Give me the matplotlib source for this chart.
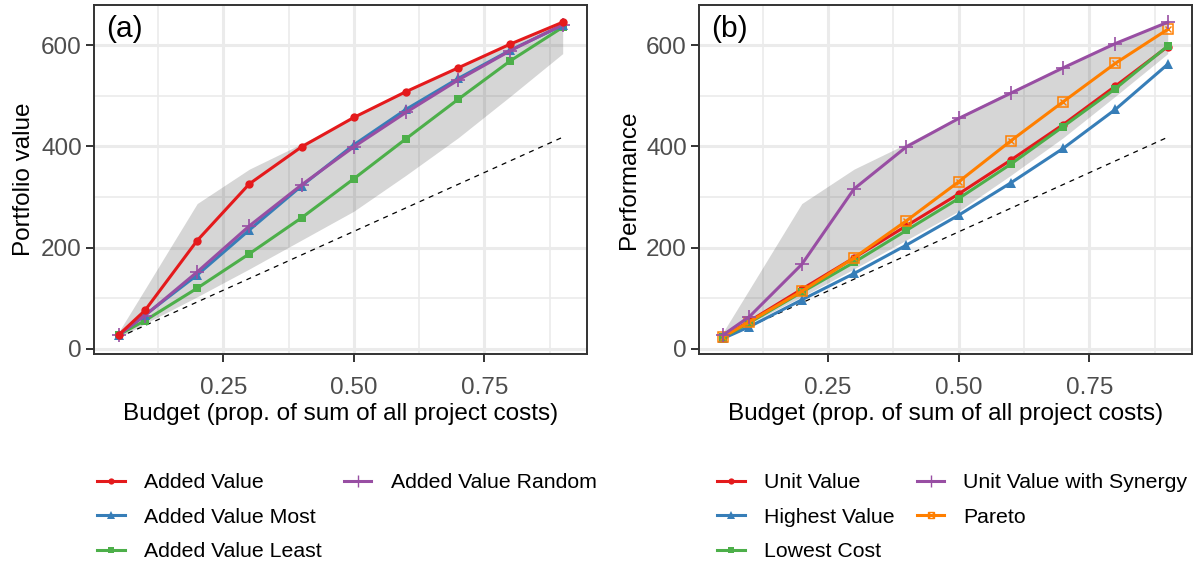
import matplotlib.pyplot as plt
from matplotlib.lines import Line2D
from matplotlib.legend_handler import HandlerTuple
from matplotlib.ticker import FixedLocator, FormatStrFormatter

plt.rcParams['font.family'] = ['Liberation Sans', 'DejaVu Sans']

budget = [0.05, 0.1, 0.2, 0.3, 0.4, 0.5, 0.6, 0.7, 0.8, 0.9]

# panel (a)
added_value = [28, 76, 214, 326, 399, 457, 508, 555, 602, 645]
added_most = [28, 67, 146, 235, 322, 403, 473, 534, 590, 639]
added_least = [28, 56, 120, 188, 259, 336, 415, 493, 569, 635]
added_random = [28, 66, 152, 243, 324, 399, 467, 531, 589, 640]

# panel (b)
unit_value = [24, 55, 118, 180, 243, 306, 373, 443, 519, 597]
highest_value = [21, 44, 97, 149, 205, 264, 328, 396, 473, 562]
lowest_cost = [23, 52, 112, 171, 234, 297, 365, 439, 514, 598]
unit_synergy = [28, 64, 167, 316, 399, 455, 505, 555, 603, 645]
pareto = [24, 54, 114, 180, 253, 330, 411, 488, 564, 631]

# grey band (same in both panels)
band_low = [22, 50, 103, 158, 215, 272, 343, 417, 499, 583]
band_high = [34, 118, 287, 355, 405, 458, 510, 557, 603, 647]

# dashed reference line
baseline_x = [0.05, 0.9]
baseline_a = [23, 418]
baseline_b = [21, 418]

RED = '#E41A1C'
BLUE = '#377EB8'
GREEN = '#4DAF4A'
PURPLE = '#984EA3'
ORANGE = '#FF7F00'

W, H = 1198, 565
LW = 2.2


def style_axes(ax, xlim):
    ax.set_xlim(*xlim)
    ax.set_ylim(-10.5, 679)
    ax.xaxis.set_major_locator(FixedLocator([0.25, 0.5, 0.75]))
    ax.xaxis.set_major_formatter(FormatStrFormatter('%.2f'))
    ax.xaxis.set_minor_locator(FixedLocator([0.125, 0.375, 0.625, 0.875]))
    ax.yaxis.set_major_locator(FixedLocator([0, 200, 400, 600]))
    ax.yaxis.set_minor_locator(FixedLocator([100, 300, 500]))
    ax.grid(which='major', color='#EBEBEB', linewidth=2.2)
    ax.grid(which='minor', color='#EBEBEB', linewidth=1.2)
    ax.set_axisbelow(True)
    ax.tick_params(which='major', length=6, width=1.4, color='#333333',
                   labelsize=17.5, labelcolor='#4D4D4D', pad=3)
    ax.tick_params(axis='x', which='major', pad=10)
    ax.tick_params(which='minor', length=0)
    for s in ax.spines.values():
        s.set_color('#333333')
        s.set_linewidth(1.4)
    ax.set_xlabel('Budget (prop. of sum of all project costs)', fontsize=17.5, labelpad=3.5)


def series(ax, y, color, marker, ms, mew=0, mfc=None):
    ax.plot(budget, y, color=color, lw=LW, marker=marker, ms=ms,
            mew=mew, mfc=mfc if mfc else color, mec=color, zorder=3)


def band(ax, base_y):
    ax.fill_between(budget, band_low, band_high, color='#333333', alpha=0.2,
                    lw=0, zorder=2)
    ax.plot(baseline_x, base_y, color='black', lw=0.9, ls=(0, (4, 4)), zorder=2.5)


fig = plt.figure(figsize=(W / 100, H / 100), dpi=100)
bottom = 1 - 354.3 / H
height = (354.3 - 5) / H
ax1 = fig.add_axes([94.3 / W, bottom, (586.7 - 94.3) / W, height])
ax2 = fig.add_axes([699.3 / W, bottom, (1192.3 - 699.3) / W, height])

# ---- panel (a)
band(ax1, baseline_a)
series(ax1, added_least, GREEN, 's', 5.5)
series(ax1, added_most, BLUE, '^', 7.5)
series(ax1, added_random, PURPLE, '+', 10, mew=1.2)
series(ax1, added_value, RED, 'o', 6)
style_axes(ax1, (0.003, 0.946))
ax1.set_ylabel('Portfolio value', fontsize=17.5, labelpad=4)
ax1.text(0.024, 0.97, '(a)', transform=ax1.transAxes, fontsize=21.5,
         va='top', ha='left')

# ---- panel (b)
band(ax2, baseline_b)
series(ax2, highest_value, BLUE, '^', 7.5)
series(ax2, unit_value, RED, 'o', 6)
series(ax2, lowest_cost, GREEN, 's', 5.5)
series(ax2, pareto, ORANGE, 's', 6.5, mew=1.1, mfc='none')
ax2.plot(budget, pareto, ls='none', marker='x', ms=5, mew=1.0, color=ORANGE, zorder=3)
series(ax2, unit_synergy, PURPLE, '+', 10, mew=1.2)
style_axes(ax2, (0.004, 0.947))
ax2.set_ylabel('Performance', fontsize=17.5, labelpad=4)
ax2.text(0.024, 0.97, '(b)', transform=ax2.transAxes, fontsize=21.5,
         va='top', ha='left')


# ---- legends
def key(color, marker, ms, mew=0, mfc=None):
    return Line2D([], [], color=color, lw=LW, marker=marker, ms=ms, mew=mew,
                  mfc=mfc if mfc else color, mec=color)


blank = Line2D([], [], alpha=0)
leg_kw = dict(ncol=2, frameon=False, fontsize=15.3, loc='upper left',
              borderpad=0, borderaxespad=0, handlelength=1.3, handletextpad=0.9,
              columnspacing=1.05, labelspacing=0.72,
              handler_map={tuple: HandlerTuple(ndivide=1)})

handles_a = [key(RED, 'o', 4.5), key(BLUE, '^', 5.5), key(GREEN, 's', 4.2),
             key(PURPLE, '+', 9, mew=1.0), blank, blank]
labels_a = ['Added Value', 'Added Value Most', 'Added Value Least',
            'Added Value Random', '', '']
fig.legend(handles_a, labels_a, bbox_to_anchor=(97 / W, 1 - 473.5 / H), **leg_kw)

pareto_key = (key(ORANGE, 's', 5, mew=1.0, mfc='none'),
              Line2D([], [], ls='none', marker='x', ms=4, mew=0.9, color=ORANGE))
handles_b = [key(RED, 'o', 4.5), key(BLUE, '^', 5.5), key(GREEN, 's', 4.2),
             key(PURPLE, '+', 9, mew=1.0), pareto_key, blank]
labels_b = ['Unit Value', 'Highest Value', 'Lowest Cost',
            'Unit Value with Synergy', 'Pareto', '']
fig.legend(handles_b, labels_b, bbox_to_anchor=(717 / W, 1 - 473.5 / H), **leg_kw)

fig.savefig('out.png', dpi=100)
